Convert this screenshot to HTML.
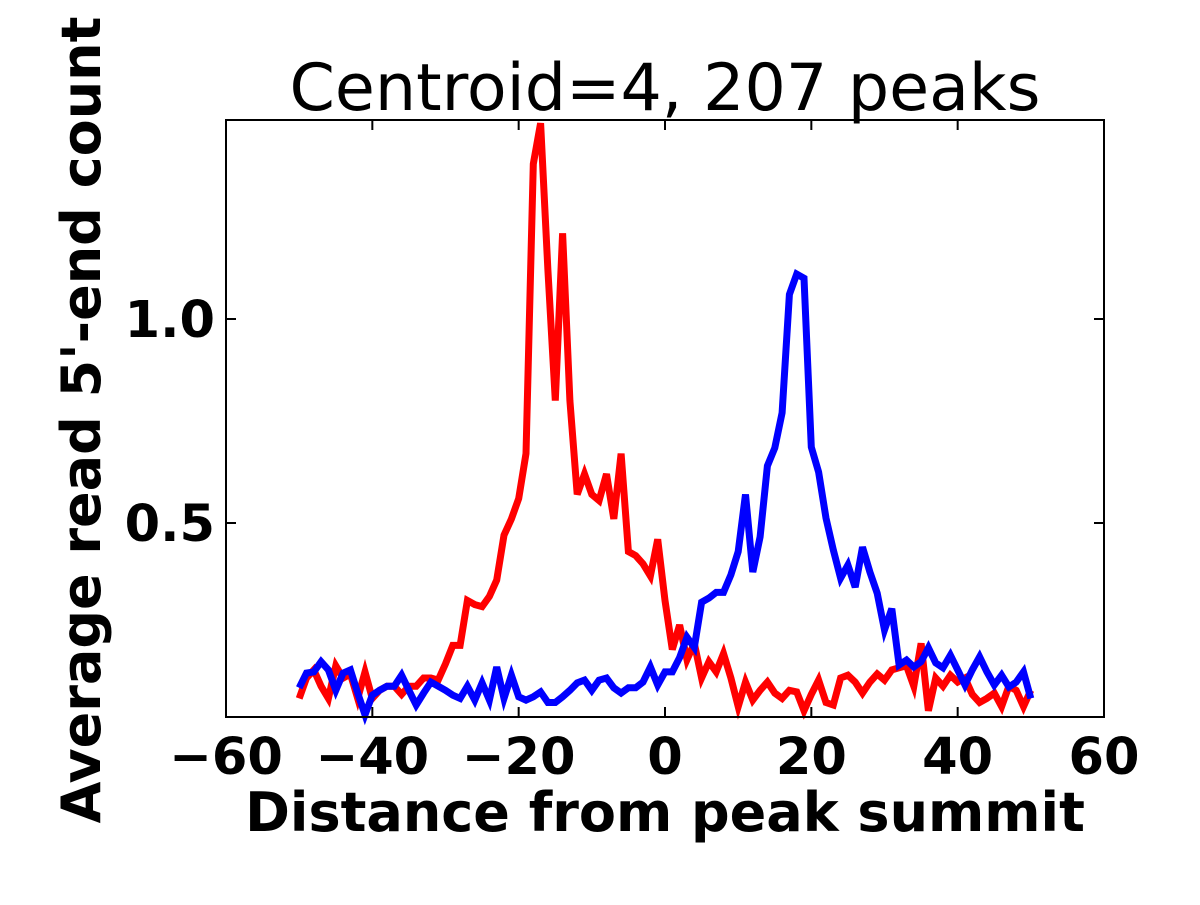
<!DOCTYPE html>
<html><head><meta charset="utf-8"><style>
html,body{margin:0;padding:0;background:#fff;}
svg text{font-family:"DejaVu Sans","Liberation Sans",sans-serif;}
</style></head><body>
<svg id="chart" width="1200" height="900" xmlns="http://www.w3.org/2000/svg">
<rect width="1200" height="900" fill="#fff"/>
<text x="665" y="110" font-size="65" text-anchor="middle">Centroid=4, 207 peaks</text>
<g id="marks"></g>
<rect x="226" y="120" width="878" height="597" fill="none" stroke="#000" stroke-width="2"/>
<g id="ticks"></g>
<text x="665" y="831" font-size="54" font-weight="bold" text-anchor="middle">Distance from peak summit</text>
<text transform="translate(100,420) rotate(-90)" font-size="54" font-weight="bold" text-anchor="middle">Average read 5'-end count</text>
</svg>
<script>
const xStart = -50;
const redValues = [.07,.12,.14,.10,.07,.15,.12,.13,.07,.135,.07,.09,.10,.10,.08,.10,.10,.12,.12,.115,.155,.20,.20,.31,.30,.295,.32,.36,.47,.51,.56,.67,1.38,1.48,1.12,.80,1.21,.80,.57,.62,.57,.555,.62,.51,.67,.43,.42,.40,.37,.46,
.31,.19,.25,.165,.205,.12,.16,.135,.18,.12,.05,.11,.066,.09,.11,.083,.07,.09,.086,.04,.08,.115,.06,.054,.12,.127,.11,.083,.11,.13,.115,.14,.145,.15,.10,.205,.04,.12,.10,.127,.11,.12,.08,.06,.07,.083,.05,.10,.09,.05,.09];
const blueValues = [.096,.132,.135,.16,.14,.09,.132,.14,.083,.03,.078,.09,.10,.10,.127,.09,.054,.083,.11,.10,.09,.078,.07,.10,.066,.108,.066,.147,.07,.127,.074,.066,.074,.086,.06,.06,.074,.09,.108,.115,.09,.115,.12,.096,.083,.096,.096,.11,.147,.103,
.135,.135,.17,.22,.195,.306,.316,.33,.33,.373,.43,.57,.38,.466,.64,.684,.77,1.06,1.11,1.10,.686,.625,.512,.434,.365,.397,.343,.441,.38,.328,.238,.29,.152,.164,.147,.16,.194,.157,.145,.176,.14,.103,.14,.172,.135,.103,.127,.098,.11,.135,.07];
const xTicks = [-60,-40,-20,0,20,40,60];
const xTickLabels = ["\u221260","\u221240","\u221220","0","20","40","60"];
const yTicks = [0.5,1.0];
const yTickLabels = ["0.5","1.0"];
const NS="http://www.w3.org/2000/svg";
function xs(v){return 226+(v+60)*878/120;}
function ys(v){return 727-v*408;}
const marks=document.getElementById('marks');
function series(vals,color,name){
  const p=document.createElementNS(NS,'polyline');
  p.setAttribute('points',vals.map((v,i)=>xs(xStart+i).toFixed(1)+','+ys(v).toFixed(1)).join(' '));
  p.setAttribute('fill','none');p.setAttribute('stroke',color);p.setAttribute('stroke-width','7');
  p.setAttribute('stroke-linejoin','miter');
  
  
  marks.appendChild(p);
}
series(redValues,'#ff0000','red-series-line');
series(blueValues,'#0000ff','blue-series-line');
const ticks=document.getElementById('ticks');
function line(x1,y1,x2,y2){const l=document.createElementNS(NS,'line');l.setAttribute('x1',x1);l.setAttribute('y1',y1);l.setAttribute('x2',x2);l.setAttribute('y2',y2);l.setAttribute('stroke','#000');l.setAttribute('stroke-width','2');


ticks.appendChild(l);}
function txt(x,y,s,anchor,name){const t=document.createElementNS(NS,'text');t.setAttribute('x',x);t.setAttribute('y',y);t.setAttribute('font-size','51');t.setAttribute('font-weight','bold');t.setAttribute('text-anchor',anchor);t.textContent=s;


ticks.appendChild(t);}
xTicks.forEach((v,i)=>{const x=xs(v);line(x,717,x,707);line(x,120,x,130);txt(x,774,xTickLabels[i],'middle','x-tick-label');});
yTicks.forEach((v,i)=>{const y=ys(v);line(226,y,236,y);line(1104,y,1094,y);txt(215,y+18,yTickLabels[i],'end','y-tick-label');});
</script>
</body></html>
